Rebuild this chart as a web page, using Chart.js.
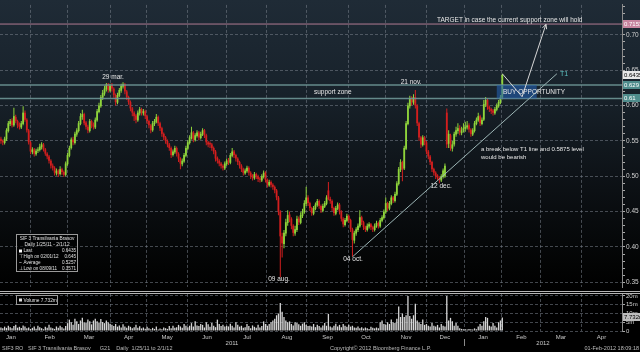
<!DOCTYPE html>
<html>
<head>
<meta charset="utf-8">
<title>SIF3 RO</title>
<script src="https://cdn.jsdelivr.net/npm/chart.js@4.4.1/dist/chart.umd.min.js"></script>
<style>
  html, body { margin: 0; padding: 0; background: #000; }
  #wrap { position: relative; width: 640px; height: 352px; overflow: hidden;
    background: linear-gradient(to bottom, #1f2b36 0px, #18222b 90px, #0c1014 190px, #030404 265px, #000 290px); }
  #price { position: absolute; left: 0; top: 0; }
  #volume { position: absolute; left: 0; top: 288px; }
  #foot { position: absolute; left: 0; top: 345px; width: 640px; height: 7px;
    font: 5.5px "Liberation Sans", sans-serif; color: #bdbdbd; white-space: pre; line-height: 7px; }
  #foot span { position: absolute; top: 0; }
</style>
</head>
<body>
<div id="wrap">
  <canvas id="price" width="640" height="292"></canvas>
  <canvas id="volume" width="640" height="58"></canvas>
  <div id="foot"><span style="left:2px">SIF3 RO   SIF 3 Transilvania Brasov      G21    Daily  1/25/11 to 2/1/12</span><span style="left:330px">Copyright© 2012 Bloomberg Finance L.P.</span><span style="right:1px">01-Feb-2012 18:09:18</span></div>
</div>
<script>
// SIF 3 Transilvania Brasov, daily candles Jan 2011 - 1 Feb 2012
// prices in thousandths of RON, one line per month
const openP = [
  553,550,547,552,564,574,579,572,584,578,573,569,574,590,580,565,548,
  534,538,531,536,537,541,545,538,532,528,522,515,512,504,508,503,510,506,502,517,
  529,540,552,547,559,564,574,584,588,576,570,564,578,573,569,579,591,599,611,617,623,630,621,
  629,624,615,604,614,621,627,630,620,612,605,596,590,586,579,589,595,589,592,585,
  578,572,565,574,577,584,575,568,560,555,550,545,540,530,534,540,532,525,517,521,529,539,
  547,554,562,551,557,562,554,559,565,558,548,547,545,540,535,526,522,518,515,511,517,
  523,519,529,535,530,525,520,515,510,504,507,512,505,501,497,503,500,497,494,499,505,495,
  487,492,488,485,480,470,450,415,404,419,434,446,440,430,419,424,440,434,444,449,461,470,
  462,455,447,454,459,465,458,451,457,461,480,468,465,455,447,454,460,450,440,431,437,444,
  438,425,409,419,424,429,442,435,428,424,429,432,428,424,429,434,429,437,441,449,
  462,454,461,470,465,474,489,509,520,511,539,574,599,610,604,612,600,575,555,544,555,548,
  535,528,520,510,505,501,498,494,499,500,590,546,558,539,545,559,564,568,561,565,
  567,569,572,566,559,564,574,579,585,574,580,601,608,598,595,593,589,594,599,604,611
];
const highP = [
  556,552,556,568,578,581,582,597,587,580,576,578,599,593,582,567,550,
  541,540,539,541,546,548,547,540,534,530,524,518,514,511,510,514,512,508,521,533,
  543,555,556,563,568,578,589,594,590,578,573,581,580,576,583,595,604,615,622,628,632,632,631,
  632,626,617,618,625,631,633,632,622,614,607,598,592,588,593,598,597,595,594,587,
  580,574,578,581,588,586,577,570,562,557,552,547,542,538,543,542,534,527,525,533,543,551,
  558,570,564,561,565,564,563,568,567,560,550,549,547,542,537,528,524,520,517,521,525,
  526,533,540,537,532,527,522,517,512,511,515,514,507,503,506,505,502,499,503,508,507,497,
  495,494,490,487,482,472,452,420,424,440,452,450,442,432,430,444,443,449,454,466,485,473,
  464,457,458,463,468,467,460,461,465,473,492,471,467,457,458,463,462,452,442,441,447,446,
  440,427,423,428,433,452,444,437,430,433,435,434,430,433,437,436,441,445,453,470,
  464,465,473,472,478,493,513,524,522,543,578,604,614,613,616,622,602,577,557,558,557,550,
  537,530,522,512,507,503,500,503,511,518,596,565,560,550,563,570,575,572,570,575,
  577,578,575,568,568,578,583,590,587,583,608,612,610,600,597,595,598,603,608,615,645
];
const lowP = [
  546,544,545,550,562,571,569,570,575,568,566,567,572,577,562,545,531,
  531,528,529,533,535,538,535,529,524,518,511,508,501,501,499,501,502,499,500,515,
  527,538,544,545,556,562,572,580,572,566,561,562,568,566,567,577,589,597,608,614,620,618,619,
  620,611,600,602,612,618,624,616,608,601,592,585,578,575,577,586,586,586,581,574,
  568,561,563,571,575,571,564,556,551,546,541,536,526,528,532,528,520,510,514,519,527,537,
  545,552,548,549,555,551,552,557,554,544,541,540,536,531,521,518,514,511,508,509,515,
  516,517,527,526,521,516,511,506,501,502,505,501,496,494,495,496,492,491,492,497,491,484,
  485,484,481,476,466,445,357,385,398,415,430,435,425,415,416,421,431,432,441,447,458,458,
  451,444,445,452,457,454,448,449,455,459,466,461,451,444,445,452,446,436,428,429,435,434,
  421,386,405,416,421,427,431,424,421,422,426,424,421,422,427,426,427,435,439,447,
  451,452,459,462,463,472,487,506,493,509,537,572,596,600,601,596,571,550,540,542,544,531,
  524,516,506,501,496,494,490,492,497,498,540,540,536,535,542,556,560,558,558,562,
  563,566,562,556,557,562,572,577,571,572,578,598,594,591,588,586,587,592,597,602,609
];
const closeP = [
  550,548,553,565,575,578,572,585,578,572,570,575,590,580,565,548,535,
  538,532,536,538,542,545,538,532,528,522,515,512,505,508,503,510,506,502,518,530,
  540,552,548,560,565,575,585,588,575,570,565,578,572,570,580,592,600,612,618,624,630,622,628,
  624,615,605,615,622,628,630,620,612,605,596,590,585,580,590,595,590,592,585,578,
  572,565,575,578,584,575,568,560,555,550,545,540,530,535,540,532,525,518,522,530,540,548,
  555,562,552,558,562,555,560,565,558,548,545,545,540,535,525,522,518,515,512,518,522,
  520,530,535,530,525,520,515,510,505,508,512,505,500,498,503,500,496,495,500,505,495,488,
  492,488,485,480,470,450,415,405,420,435,445,440,430,420,425,440,435,445,450,462,470,462,
  455,448,455,460,465,458,452,458,462,470,468,465,455,448,455,460,450,440,432,438,444,438,
  425,410,420,425,430,442,435,428,425,430,432,428,425,430,434,430,438,442,450,462,
  455,462,470,466,475,490,510,520,510,540,575,600,610,605,612,600,575,555,545,555,548,535,
  528,520,510,505,500,498,495,500,508,515,545,560,540,545,560,565,568,562,565,568,
  570,572,566,560,565,575,580,585,575,580,602,608,598,595,592,590,595,600,605,612,643.5
];
// daily volume, millions of shares
const volumeM = [
  2.0,1.5,2.5,1.8,3.0,2.2,1.6,2.8,3.5,1.9,2.4,1.7,3.2,2.6,1.5,2.0,1.2,
  1.8,2.5,1.3,3.0,2.2,1.6,1.0,2.4,1.8,3.5,2.0,1.5,1.2,2.6,1.9,3.0,2.2,1.4,2.8,4.5,
  6.5,5.0,3.5,7.0,5.5,4.0,6.0,7.5,5.0,4.5,6.5,5.5,3.8,6.0,7.0,5.5,4.8,6.8,5.2,4.5,6.0,5.0,4.2,
  3.5,2.8,4.0,2.5,3.2,2.0,3.8,2.6,1.8,3.0,2.4,1.6,2.2,3.5,1.9,2.7,1.5,2.0,1.3,2.4,
  1.5,1.0,1.8,1.2,2.5,0.8,1.4,1.0,2.0,1.6,1.2,2.8,1.5,3.0,1.8,2.2,3.5,2.6,1.9,4.0,3.0,2.2,
  3.0,4.5,2.5,5.5,3.2,2.8,4.0,3.5,2.0,5.0,3.8,2.4,4.5,3.0,2.2,6.5,4.0,2.8,3.5,2.5,3.0,
  2.6,4.2,3.0,2.0,5.0,3.5,2.5,3.0,1.8,2.2,4.0,2.8,1.6,3.2,2.4,1.8,3.6,2.0,2.8,5.5,4.0,3.0,
  4.0,5.0,6.0,7.0,9.0,10.0,16.0,11.0,8.0,6.0,5.0,5.5,4.0,3.2,5.0,4.5,3.8,3.0,4.2,5.0,3.5,2.8,
  3.0,2.5,4.0,2.2,3.5,2.8,2.0,3.2,4.5,3.0,9.8,2.5,2.0,3.0,4.2,2.6,3.5,2.2,4.0,3.0,2.4,3.5,
  2.5,3.0,2.0,1.8,2.5,1.5,2.2,1.4,2.0,1.6,1.2,2.4,1.8,1.5,2.0,1.6,5.0,6.0,4.0,3.5,
  5.0,4.0,6.5,5.0,4.5,7.0,14.0,8.0,10.0,8.0,9.0,20.0,8.5,7.0,9.0,15.5,6.0,5.0,4.0,6.5,3.5,4.0,
  3.0,2.5,4.5,3.0,2.5,3.5,2.0,4.0,3.0,2.5,20.0,6.0,7.5,5.5,3.0,4.5,3.0,1.5,1.2,1.0,
  1.0,0.8,1.2,1.0,0.8,1.5,1.0,2.5,4.0,3.0,5.5,8.0,7.5,3.0,2.5,4.5,3.0,2.0,5.0,6.0,7.732
];

// x axis is the trading-day index; month edges / label spots on that index
const monthEdges = [16.1, 36.1, 59.3, 78.8, 100.6, 121.7, 143.7, 165.4, 187.6, 207.6, 230.2, 250.3, 270.7, 291.8, 313.9];
const monthMids = [5.4, 26.3, 47.6, 69, 89.8, 111.4, 133, 154.6, 176.5, 197.3, 219, 240, 260.6, 281.4, 302.7, 324.6];
const monthNames = ['Jan','Feb','Mar','Apr','May','Jun','Jul','Aug','Sep','Oct','Nov','Dec','Jan','Feb','Mar','Apr'];
const yearNames = ['2011', '2012'];
const yearMids = [124.9, 293];
const priceTicks = [0.35, 0.40, 0.45, 0.50, 0.55, 0.60, 0.65, 0.70];
const volumeTicks = [0, 5, 10, 15, 20];

// drawn studies
const targetLevel = 0.7153;
const supportTop = 0.629;
const supportBottom = 0.61;
const t1Line = [[190, 0.386], [300.5, 0.645]];
const scenarioPath = [[271, 0.645], [281.7, 0.6125], [294.6, 0.715]];
const buyZone = [268, 289.6];
const notes = [
  ['TARGET in case the current support zone will hold', 235.7, 0.7212, 'left', 6.5],
  ['support zone', 169.2, 0.6194, 'left', 6.5],
  ['29 mar.', 60.6, 0.640, 'center', 6.5],
  ['21 nov.', 221.7, 0.633, 'center', 6.5],
  ['09 aug.', 150.3, 0.3544, 'center', 6.5],
  ['04 oct.', 190.3, 0.3824, 'center', 6.5],
  ['12 dec.', 237.9, 0.4862, 'center', 6.5],
  ['a break below T1 line and 0.5875 level', 259.5, 0.5374, 'left', 6],
  ['would be bearish', 259.5, 0.5265, 'left', 6],
  ['BUY OPPORTUNITY', 271.4, 0.6194, 'left', 6.5]
];

const UP = '#8fd43c';
const DOWN = '#d41f1f';
const GRID = 'rgba(120,128,138,0.55)';
const FONT = '"Liberation Sans", sans-serif';
const X_MIN = -0.5, X_MAX = 335.7;

const candleColors = closeP.map((c, i) => c >= openP[i] ? UP : DOWN);
const wickData = closeP.map((c, i) => ({ x: i, y: [lowP[i] / 1000, highP[i] / 1000] }));
const bodyData = closeP.map((c, i) => ({ x: i, y: [openP[i] / 1000, c / 1000] }));
const volData = volumeM.map((v, i) => ({ x: i, y: v }));
const lastClose = closeP[closeP.length - 1] / 1000;
const lastVol = volumeM[volumeM.length - 1];

function isMajor(v) { return Math.abs(v * 20 - Math.round(v * 20)) < 1e-6; }

function txt(ctx, s, x, y, align, color, size) {
  ctx.font = size + 'px ' + FONT;
  ctx.fillStyle = color;
  ctx.textAlign = align;
  ctx.textBaseline = 'middle';
  ctx.fillText(s, x, y);
}

function axisTag(ctx, a, yPix, s, bg, fg) {
  ctx.fillStyle = bg;
  ctx.fillRect(a.right + 1, Math.round(yPix) - 4, 640 - a.right - 1, 8);
  txt(ctx, s, a.right + 2, Math.round(yPix) + 0.5, 'left', fg, 6);
}

const priceStudies = {
  id: 'priceStudies',
  afterDraw(chart) {
    const { ctx, chartArea: a, scales: { x, y } } = chart;
    const px = v => x.getPixelForValue(v);
    const py = v => y.getPixelForValue(v);
    ctx.save();

    // level lines
    const hLine = (v, color, w) => {
      ctx.strokeStyle = color; ctx.lineWidth = w;
      ctx.beginPath(); ctx.moveTo(a.left, py(v)); ctx.lineTo(a.right, py(v)); ctx.stroke();
    };
    hLine(targetLevel, '#b07a92', 1);
    hLine(supportTop, 'rgba(110,150,150,0.9)', 1.6);
    hLine(supportBottom, 'rgba(110,150,150,0.9)', 1.6);

    // buy opportunity zone
    ctx.fillStyle = 'rgba(35,95,175,0.6)';
    ctx.fillRect(px(buyZone[0]), py(supportTop), px(buyZone[1]) - px(buyZone[0]), py(supportBottom) - py(supportTop));

    // T1 trend line
    ctx.strokeStyle = '#9db6b6'; ctx.lineWidth = 1;
    ctx.beginPath();
    ctx.moveTo(px(t1Line[0][0]), py(t1Line[0][1]));
    ctx.lineTo(px(t1Line[1][0]), py(t1Line[1][1]));
    ctx.stroke();
    txt(ctx, 'T1', px(t1Line[1][0]) + 3, py(t1Line[1][1]) + 0.5, 'left', '#5cc2c2', 7);

    // scenario path with arrow head
    ctx.strokeStyle = '#d8d8d8'; ctx.lineWidth = 1;
    ctx.beginPath();
    scenarioPath.forEach((p, k) => k ? ctx.lineTo(px(p[0]), py(p[1])) : ctx.moveTo(px(p[0]), py(p[1])));
    ctx.stroke();
    const n = scenarioPath.length;
    const ex = px(scenarioPath[n - 1][0]), ey = py(scenarioPath[n - 1][1]);
    const ang = Math.atan2(ey - py(scenarioPath[n - 2][1]), ex - px(scenarioPath[n - 2][0]));
    ctx.beginPath();
    ctx.moveTo(ex - 5 * Math.cos(ang - 0.45), ey - 5 * Math.sin(ang - 0.45));
    ctx.lineTo(ex, ey);
    ctx.lineTo(ex - 5 * Math.cos(ang + 0.45), ey - 5 * Math.sin(ang + 0.45));
    ctx.stroke();

    notes.forEach(([s, nx, ny, al, sz]) => txt(ctx, s, px(nx), py(ny), al, '#e6e6e6', sz));

    // value tags on the price axis
    axisTag(ctx, a, py(targetLevel), '0.7153', '#c7849f', '#fff');
    axisTag(ctx, a, py(lastClose), lastClose.toFixed(4), '#e8e8e8', '#000');
    axisTag(ctx, a, py(supportTop), '0.629', '#4f8c8c', '#fff');
    axisTag(ctx, a, py(supportBottom), '0.61', '#4f8c8c', '#fff');

    // legend box
    ctx.fillStyle = 'rgba(0,0,0,0.55)';
    ctx.fillRect(16.5, 234.5, 61, 37);
    ctx.strokeStyle = '#9a9a9a'; ctx.lineWidth = 1;
    ctx.strokeRect(16.5, 234.5, 61, 37);
    txt(ctx, 'SIF 3 Transilvania Brasov', 47, 239, 'center', '#e0e0e0', 4.8);
    txt(ctx, 'Daily 1/25/11 - 2/1/12', 47, 245, 'center', '#e0e0e0', 4.8);
    const rows = [['Last', '0.6435'], ['High on 02/01/12', '0.645'], ['Average', '0.5257'], ['Low on 08/09/11', '0.3571']];
    const marks = ['', '\u22A4', '~', '\u22A5'];
    rows.forEach((r, k) => {
      const ry = 251 + k * 5.8;
      if (k === 0) { ctx.fillStyle = '#fff'; ctx.fillRect(19, ry - 1.5, 3, 3); }
      else txt(ctx, marks[k], 20.5, ry, 'center', '#e0e0e0', 4.8);
      txt(ctx, r[0], 23.5, ry, 'left', '#e0e0e0', 4.6);
      txt(ctx, r[1], 76, ry, 'right', '#e0e0e0', 4.6);
    });
    ctx.restore();
  }
};

const volumeStudies = {
  id: 'volumeStudies',
  afterDraw(chart) {
    const { ctx, chartArea: a, scales: { x, y } } = chart;
    ctx.save();
    ctx.strokeStyle = '#b4b4b4'; ctx.lineWidth = 1;
    [3.5, 5.5].forEach(yy => { ctx.beginPath(); ctx.moveTo(0, yy); ctx.lineTo(640, yy); ctx.stroke(); });

    ctx.fillStyle = 'rgba(0,0,0,0.6)';
    ctx.fillRect(16.5, 7.5, 41, 9);
    ctx.strokeStyle = '#9a9a9a';
    ctx.strokeRect(16.5, 7.5, 41, 9);
    ctx.fillStyle = '#e0e0e0';
    ctx.fillRect(19, 10.5, 3, 3);
    txt(ctx, 'Volume ' + lastVol.toFixed(3) + 'm', 23.5, 12.5, 'left', '#e6e6e6', 4.8);

    axisTag(ctx, a, y.getPixelForValue(lastVol), lastVol.toFixed(3) + 'm', '#bdbdbd', '#000');

    yearNames.forEach((s, k) => txt(ctx, s, x.getPixelForValue(yearMids[k]), a.bottom + 12.5, 'center', '#c8c8c8', 6));
    const xd = Math.round(x.getPixelForValue(monthEdges[11])) + 0.5;
    ctx.strokeStyle = '#8a8a8a';
    ctx.beginPath(); ctx.moveTo(xd, a.bottom + 8); ctx.lineTo(xd, a.bottom + 15); ctx.stroke();
    ctx.restore();
  }
};

new Chart(document.getElementById('price'), {
  type: 'bar',
  data: {
    datasets: [
      { data: wickData, backgroundColor: candleColors, barThickness: 1, grouped: false, inflateAmount: 0 },
      { data: bodyData, backgroundColor: candleColors, barThickness: 1.8, grouped: false, inflateAmount: 0 }
    ]
  },
  options: {
    responsive: false,
    animation: false,
    events: [],
    layout: { padding: 0 },
    plugins: { legend: { display: false }, tooltip: { enabled: false } },
    scales: {
      x: {
        type: 'linear', min: X_MIN, max: X_MAX, offset: false,
        afterBuildTicks: s => { s.ticks = monthEdges.map(v => ({ value: v })); },
        afterFit: s => { s.height = 0; },
        ticks: { display: false },
        grid: { color: GRID, drawTicks: false, offset: false },
        border: { display: false, dash: [3, 2] }
      },
      y: {
        position: 'right', min: 0.3432, max: 0.7424, beginAtZero: false,
        afterBuildTicks: s => {
          const t = [];
          for (let v = 35; v <= 74; v++) t.push({ value: v / 100 });
          s.ticks = t;
        },
        afterFit: s => { s.width = 18; },
        ticks: {
          autoSkip: false, padding: 1, color: '#cfcfcf',
          font: { size: 6.5, family: FONT },
          callback: v => priceTicks.some(p => Math.abs(p - v) < 1e-6) ? v.toFixed(2) : ''
        },
        grid: {
          color: c => isMajor(c.tick.value) ? GRID : 'rgba(0,0,0,0)',
          tickColor: '#a8a8a8', tickLength: 3
        },
        border: { color: '#8c8c8c', dash: [3, 2] }
      }
    }
  },
  plugins: [priceStudies]
});

new Chart(document.getElementById('volume'), {
  type: 'bar',
  data: {
    datasets: [{ data: volData, backgroundColor: '#d6d6d6', barThickness: 1.3, inflateAmount: 0 }]
  },
  options: {
    responsive: false,
    animation: false,
    events: [],
    layout: { padding: { top: 6, left: 0, right: 0, bottom: 0 } },
    plugins: { legend: { display: false }, tooltip: { enabled: false } },
    scales: {
      x: {
        type: 'linear', min: X_MIN, max: X_MAX, offset: false, position: 'bottom',
        afterBuildTicks: s => { s.ticks = monthMids.map(v => ({ value: v })); },
        afterFit: s => { s.height = 15; },
        ticks: {
          autoSkip: false, maxRotation: 0, padding: 3, color: '#c8c8c8',
          font: { size: 6, family: FONT },
          callback: (v, i) => monthNames[i]
        },
        grid: { display: false, drawTicks: false },
        border: { display: false }
      },
      xg: {
        type: 'linear', axis: 'x', min: X_MIN, max: X_MAX, offset: false, position: 'bottom',
        afterBuildTicks: s => { s.ticks = monthEdges.map(v => ({ value: v })); },
        afterFit: s => { s.height = 0; },
        ticks: { display: false },
        grid: { color: GRID, drawTicks: false, offset: false },
        border: { display: false, dash: [3, 2] }
      },
      y: {
        position: 'right', min: 0, max: 21.14,
        afterBuildTicks: s => { s.ticks = volumeTicks.map(v => ({ value: v })); },
        afterFit: s => { s.width = 18; },
        ticks: {
          autoSkip: false, padding: 1, color: '#cfcfcf',
          font: { size: 6, family: FONT },
          callback: v => v === 0 ? '0' : v + 'm'
        },
        grid: { color: GRID, tickColor: '#a8a8a8', tickLength: 3 },
        border: { color: '#8c8c8c', dash: [3, 2] }
      }
    }
  },
  plugins: [volumeStudies]
});
</script>
</body>
</html>
